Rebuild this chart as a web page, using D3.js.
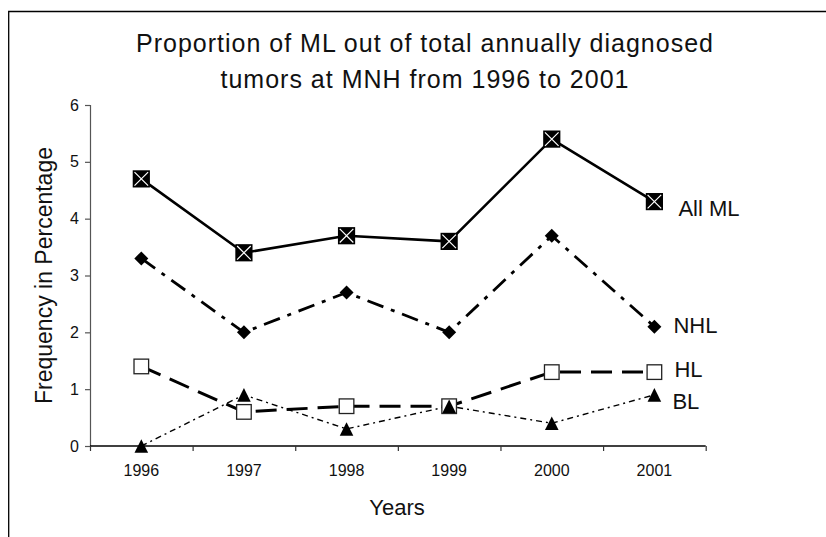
<!DOCTYPE html>
<html>
<head>
<meta charset="utf-8">
<script src="https://cdn.jsdelivr.net/npm/d3@7"></script>
<style>
  html, body { margin: 0; padding: 0; background: #fff; }
  svg { display: block; font-family: "Liberation Sans", Arial, Helvetica, sans-serif; }
</style>
</head>
<body>
<svg id="chart" width="826" height="537"></svg>
<script>
// ---- data ----
const categories = ["1996", "1997", "1998", "1999", "2000", "2001"];
const allML = [4.7, 3.4, 3.7, 3.6, 5.4, 4.3];
const nhl   = [3.3, 2.0, 2.7, 2.0, 3.7, 2.1];
const hl    = [1.4, 0.6, 0.7, 0.7, 1.3, 1.3];
const bl    = [0.0, 0.9, 0.3, 0.7, 0.4, 0.9];
const seriesNames = ["All ML", "NHL", "HL", "BL"];
const yTicks = [0, 1, 2, 3, 4, 5, 6];
const titleLines = ["Proportion of ML out of total annually diagnosed", "tumors at MNH from 1996 to 2001"];
const xTitle = "Years";
const yTitle = "Frequency in Percentage";

// ---- layout ----
const svg = d3.select("#chart");
const plotL = 90, plotR = 705.7, plotT = 105, plotB = 446;

const x = d3.scaleBand().domain(categories).range([plotL, plotR]).padding(0);
const xb = d3.scaleLinear().domain([0, categories.length]).range([plotL, plotR]);
const y = d3.scaleLinear().domain([0, 6]).range([plotB, plotT]);

// outer frame (top and left edges visible)
svg.append("path")
  .attr("d", `M8.7,537 L8.7,11.5 L826,11.5`)
  .attr("fill", "none").attr("stroke", "#000").attr("stroke-width", 1.3);

// title
const title = svg.append("text")
  .attr("text-anchor", "middle")
  .attr("font-size", 25)
  .attr("letter-spacing", 1)
  .attr("fill", "#111");
titleLines.forEach((t, i) => {
  title.append("tspan").attr("x", 425).attr("y", 52 + i * 36).text(t);
});

// y axis
const yAxis = svg.append("g")
  .attr("transform", `translate(${plotL},0)`)
  .call(d3.axisLeft(y).tickValues(yTicks).tickSize(5).tickPadding(6).tickFormat(d3.format("d")));
yAxis.select(".domain").attr("stroke", "#555").attr("stroke-width", 1.2);
yAxis.selectAll(".tick line").attr("stroke", "#555").attr("stroke-width", 1.2);
yAxis.selectAll(".tick text").attr("font-size", 16).attr("fill", "#111")
  .attr("font-family", "Liberation Sans, Arial, sans-serif");

// x axis: labels at category centres
const xAxisLabels = svg.append("g")
  .attr("transform", `translate(0,${plotB})`)
  .call(d3.axisBottom(x).tickSize(0).tickPadding(19));
xAxisLabels.select(".domain").remove();
xAxisLabels.selectAll(".tick text").attr("font-size", 16).attr("fill", "#111")
  .attr("font-family", "Liberation Sans, Arial, sans-serif");

// x axis: line and boundary ticks
const xAxisTicks = svg.append("g")
  .attr("transform", `translate(0,${plotB})`)
  .call(d3.axisBottom(xb).tickValues(d3.range(0, categories.length + 1)).tickSize(5).tickFormat(""));
xAxisTicks.select(".domain").attr("stroke", "#000").attr("stroke-width", 1.3)
  .attr("d", `M${plotL},0H${plotR}`);
xAxisTicks.selectAll(".tick line").attr("stroke", "#333").attr("stroke-width", 1.2);

// axis titles
svg.append("text")
  .attr("x", 397).attr("y", 515)
  .attr("text-anchor", "middle").attr("font-size", 22).attr("fill", "#111")
  .text(xTitle);
svg.append("text")
  .attr("transform", `translate(52,${(plotT + plotB) / 2}) rotate(-90)`)
  .attr("text-anchor", "middle").attr("font-size", 23).attr("fill", "#111")
  .text(yTitle);

// ---- series ----
const seriesValues = [allML, nhl, hl, bl];
const styles = [
  { width: 2.6, dash: null },
  { width: 2.8, dash: "17,8,4,8" },
  { width: 3.0, dash: "21,10" },
  { width: 1.4, dash: "6,4,2,4" }
];
const labelOffsets = [
  { dx: 24, dy: 14 },
  { dx: 19, dy: 6.6 },
  { dx: 20, dy: 5 },
  { dx: 18, dy: 14 }
];

const cx = c => x(c) + x.bandwidth() / 2;
const line = d3.line().x((d, i) => cx(categories[i])).y(d => y(d));

seriesValues.forEach((vals, s) => {
  svg.append("path")
    .attr("d", line(vals))
    .attr("fill", "none")
    .attr("stroke", "#000")
    .attr("stroke-width", styles[s].width)
    .attr("stroke-dasharray", styles[s].dash)
    .attr("stroke-linejoin", "round");
});

// markers
function drawMarkers(vals, s) {
  const g = svg.append("g");
  vals.forEach((v, i) => {
    const px = cx(categories[i]), py = y(v);
    if (s === 0) {
      const h = 8.6;
      g.append("rect").attr("x", px - h).attr("y", py - h).attr("width", 2 * h).attr("height", 2 * h).attr("fill", "#000");
      const k = 6.8;
      g.append("path").attr("d", `M${px - k},${py - k}L${px + k},${py + k}M${px + k},${py - k}L${px - k},${py + k}`)
        .attr("stroke", "#fff").attr("stroke-width", 1.2);
    } else if (s === 1) {
      const r = 7;
      g.append("path").attr("d", `M${px},${py - r}L${px + r},${py}L${px},${py + r}L${px - r},${py}Z`).attr("fill", "#000");
    } else if (s === 2) {
      const h = 7.3;
      g.append("rect").attr("x", px - h).attr("y", py - h).attr("width", 2 * h).attr("height", 2 * h)
        .attr("fill", "#fff").attr("stroke", "#222").attr("stroke-width", 1.3);
    } else {
      const w = 6.8, hh = 6.8;
      g.append("path").attr("d", `M${px},${py - hh}L${px + w},${py + hh}L${px - w},${py + hh}Z`).attr("fill", "#000");
    }
  });
}
seriesValues.forEach((vals, s) => drawMarkers(vals, s));

// series labels at the right end
seriesValues.forEach((vals, s) => {
  const last = vals.length - 1;
  svg.append("text")
    .attr("x", cx(categories[last]) + labelOffsets[s].dx)
    .attr("y", y(vals[last]) + labelOffsets[s].dy)
    .attr("font-size", 22).attr("fill", "#111")
    .text(seriesNames[s]);
});
</script>
</body>
</html>
